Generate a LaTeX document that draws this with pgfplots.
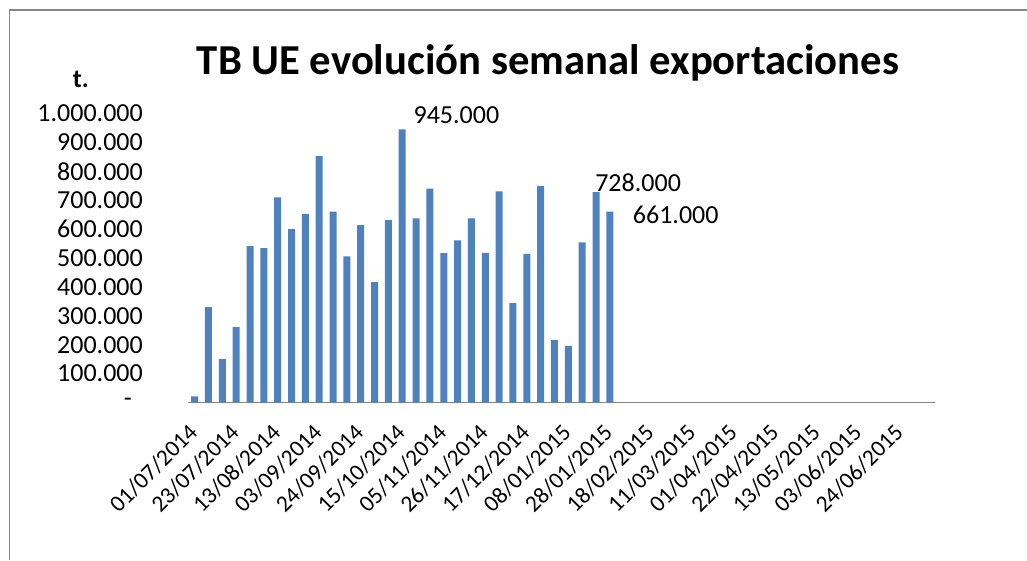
\documentclass[border=0pt]{standalone}
\usepackage{fontspec}
\setmainfont{Carlito}
\usepackage{pgfplots}
\usepackage{pgfplotstable}
\pgfplotsset{compat=1.18}
\definecolor{barblue}{HTML}{4F81BD}
\definecolor{axgray}{HTML}{868686}

% weekly exports (t.), week index 0 = 01/07/2014
\pgfplotstableread{
x y
0 21000
1 330000
2 150000
3 261000
4 541000
5 534000
6 710000
7 600000
8 653000
9 853000
10 661000
11 506000
12 614000
13 417000
14 631000
15 945000
16 637000
17 740000
18 517000
19 561000
20 637000
21 518000
22 731000
23 344000
24 514000
25 749000
26 216000
27 196000
28 554000
29 728000
30 661000
}\weekly

\begin{document}
\begin{tikzpicture}
\useasboundingbox (0,0) rectangle (770.25pt,420pt);
\draw[axgray, line width=1.1pt] (7.1pt,0) -- (7.1pt,412.5pt) -- (770.25pt,412.5pt);
\node[anchor=base, inner sep=0pt, font=\fontsize{32}{38}\selectfont\bfseries]
  at (411pt,363.75pt) {TB UE evolución semanal exportaciones};
\node[anchor=base west, inner sep=0pt, font=\fontsize{19.5}{23}\selectfont\bfseries]
  at (54.5pt,354.5pt) {t.};
\begin{axis}[
    at={(140.8pt,118.1pt)}, anchor=south west,
    scale only axis, width=560.5pt, height=216.75pt,
    xmin=-0.5, xmax=53.5, ymin=0, ymax=1000000,
    clip=false,
    axis x line*=bottom, axis y line*=left,
    x axis line style={axgray, line width=1.4pt},
    y axis line style={draw=none},
    major tick length=0pt,
    ytick={0,100000,...,1000000},
    yticklabels={{-\hspace*{8.25pt}},100.000,200.000,300.000,400.000,500.000,600.000,700.000,800.000,900.000,1.000.000},
    scaled y ticks=false,
    xtick={0,3,...,51},
    xticklabels={01/07/2014,23/07/2014,13/08/2014,03/09/2014,24/09/2014,15/10/2014,05/11/2014,26/11/2014,17/12/2014,08/01/2015,28/01/2015,18/02/2015,11/03/2015,01/04/2015,22/04/2015,13/05/2015,03/06/2015,24/06/2015},
    yticklabel style={font=\fontsize{19.5}{23}\selectfont, anchor=east, inner sep=0pt, xshift=-33.5pt},
    xticklabel style={font=\fontsize{17.5}{21}\selectfont, xshift=-5.6pt, yshift=-14.6pt, rotate=45, anchor=north east, inner sep=0pt},
]
\addplot[ybar, bar width=5.25pt, fill=barblue, draw=none] table[x=x, y=y] {\weekly};
\node[anchor=base west, inner sep=0pt, font=\fontsize{19.5}{23}\selectfont] at (axis cs:15.8,966000) {945.000};
\node[anchor=base west, inner sep=0pt, font=\fontsize{19.5}{23}\selectfont] at (axis cs:28.93,729400) {728.000};
\node[anchor=base west, inner sep=0pt, font=\fontsize{19.5}{23}\selectfont] at (axis cs:31.65,620000) {661.000};
\end{axis}
\end{tikzpicture}
\end{document}
